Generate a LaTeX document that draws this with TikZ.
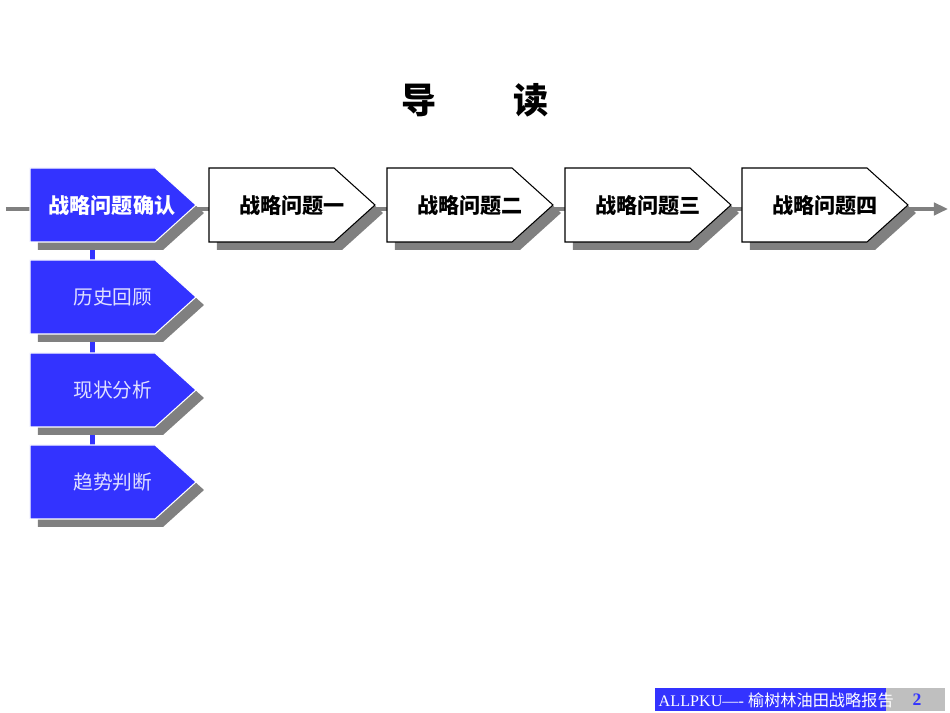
\documentclass[tikz,border=0pt]{standalone}
\usepackage{fontspec}
\setmainfont{Liberation Serif}
\newfontfamily\cjk{Noto Sans CJK SC}
\usetikzlibrary{arrows.meta}
\definecolor{bblue}{HTML}{3333FF}
\definecolor{shad}{HTML}{808080}
\tikzset{
  toptxt/.style={font=\cjk\bfseries\fontsize{6}{7}\selectfont,inner sep=0pt},
  sidetxt/.style={font=\cjk\fontsize{5.6}{6.5}\selectfont,text=blue!12!white,inner sep=0pt},
}
\newcommand{\arrowbox}[4]{% x, y, fill, draw
  \fill[shad] (#1+8,#2+8) -- ++(125,0) -- ++(41,37) -- ++(-41,37) -- ++(-125,0) -- cycle;
  \filldraw[fill=#3,draw=#4,line width=0.3pt] (#1,#2) -- ++(125,0) -- ++(41,37) -- ++(-41,37) -- ++(-125,0) -- cycle;
}
\begin{document}
\begin{tikzpicture}[x=0.01cm,y=-0.01cm]
\useasboundingbox (0,0) rectangle (950,713);
\coordinate (ls) at (6,209);
\coordinate (le) at (948,209);
\draw[shad,line width=1pt,-{Triangle[length=4pt,width=3.5pt]}] (ls) -- (le);
\fill[bblue] (90,240) rectangle (95,450);
\node[font=\cjk\bfseries\fontsize{10}{12}\selectfont] (title) at (475,100) {导\hspace{2.2em}读};
\arrowbox{30}{168}{bblue}{white}
\node[toptxt,text=white] (b0) at (112,205) {战略问题确认};
\arrowbox{209}{168}{white}{black}
\node[toptxt] (b1) at (292,205) {战略问题一};
\arrowbox{387}{168}{white}{black}
\node[toptxt] (b2) at (470,205) {战略问题二};
\arrowbox{565}{168}{white}{black}
\node[toptxt] (b3) at (648,205) {战略问题三};
\arrowbox{742}{168}{white}{black}
\node[toptxt] (b4) at (825,205) {战略问题四};
\arrowbox{30}{260}{bblue}{white}
\node[sidetxt] (s1) at (113,297) {历史回顾};
\arrowbox{30}{353}{bblue}{white}
\node[sidetxt] (s2) at (113,390) {现状分析};
\arrowbox{30}{445}{bblue}{white}
\node[sidetxt] (s3) at (113,482) {趋势判断};
\fill[bblue] (655,688) rectangle (886,711);
\fill[black!25] (886,688) rectangle (945,711);
\node[text=white,font=\fontsize{4.6}{5}\selectfont,anchor=west,inner sep=0pt] (ft) at (658,700) {ALLPKU---- {\cjk 榆树林油田战略报告}};
\node[text=bblue,font=\bfseries\fontsize{5}{6}\selectfont,inner sep=0pt] (pg) at (917,700) {2};
\end{tikzpicture}
\end{document}
